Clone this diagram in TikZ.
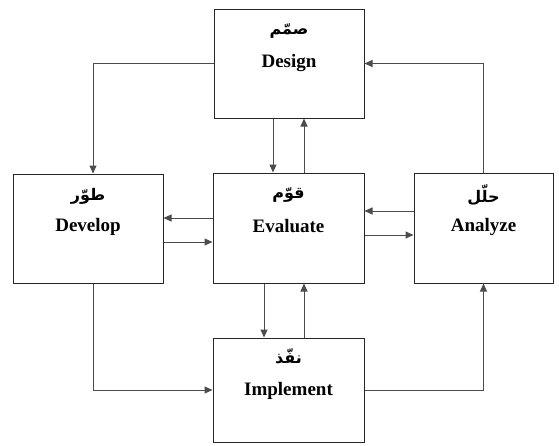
\documentclass[tikz,border=0pt]{standalone}
\usepackage{fontspec}
\setmainfont{Liberation Serif}
\newfontfamily\arabicfont[Script=Arabic]{DejaVu Sans}
\TeXXeTstate=1
\usetikzlibrary{arrows.meta,calc}
\begin{document}
\begin{tikzpicture}[x=1pt,y=-1pt,
  box/.style={draw=black!85,line width=1pt,inner sep=0pt,fill=white},
  entxt/.style={font=\fontsize{19}{22}\selectfont\bfseries,inner sep=0pt},
  artxt/.style={font=\fontsize{16}{18}\selectfont\arabicfont\bfseries,inner sep=0pt},
  conn/.style={draw=black!70,line width=1pt,-{Triangle[length=8pt,width=7pt]}}]
\useasboundingbox (0,0) rectangle (559,445);
% boxes
\node[box,minimum width=150pt,minimum height=109pt] (des) at (289,63.5) {};
\node[box,minimum width=150pt,minimum height=109pt] (dev) at (88,228.5) {};
\node[box,minimum width=151pt,minimum height=110pt] (eva) at (288.5,228) {};
\node[box,minimum width=139pt,minimum height=110pt] (ana) at (483.5,228) {};
\node[box,minimum width=151pt,minimum height=104pt] (imp) at (288.5,390) {};
% texts
\node[artxt] (desar) at (289,31) {\beginR صمّم\endR};
\node[entxt] (desen) at (289,63) {Design};
\node[artxt] (devar) at (88,196) {\beginR طوّر\endR};
\node[entxt] (deven) at (88,227) {Develop};
\node[artxt] (evaar) at (288.5,195) {\beginR قوّم\endR};
\node[entxt] (evaen) at (288.5,226) {Evaluate};
\node[artxt] (anaar) at (483.5,195) {\beginR حلّل\endR};
\node[entxt] (anaen) at (483.5,227) {Analyze};
\node[artxt] (impar) at (288.5,356) {\beginR نفّذ\endR};
\node[entxt] (impen) at (288.5,391) {Implement};
% outer loop
\draw[conn] (des.west) -| ($(dev.north)+(5,0)$);
\draw[conn] (ana.north) |- (des.east);
\draw[conn] ($(dev.south)+(5,0)$) |- (imp.west);
\draw[conn] (imp.east) -| (ana.south);
% inner links
\draw[conn] ($(des.south)+(-16,0)$) -- ($(eva.north)+(-15.5,0)$);
\draw[conn] ($(eva.north)+(15.5,0)$) -- ($(des.south)+(15,0)$);
\draw[conn] ($(eva.south)+(-24.5,0)$) -- ($(imp.north)+(-24.5,0)$);
\draw[conn] ($(imp.north)+(15.5,0)$) -- ($(eva.south)+(15.5,0)$);
\draw[conn] ($(eva.west)+(0,-10)$) -- ($(dev.east)+(0,-10.5)$);
\draw[conn] ($(dev.east)+(0,13.5)$) -- ($(eva.west)+(0,14)$);
\draw[conn] ($(ana.west)+(0,-17)$) -- ($(eva.east)+(0,-17)$);
\draw[conn] ($(eva.east)+(0,7)$) -- ($(ana.west)+(0,7)$);
\end{tikzpicture}
\end{document}
